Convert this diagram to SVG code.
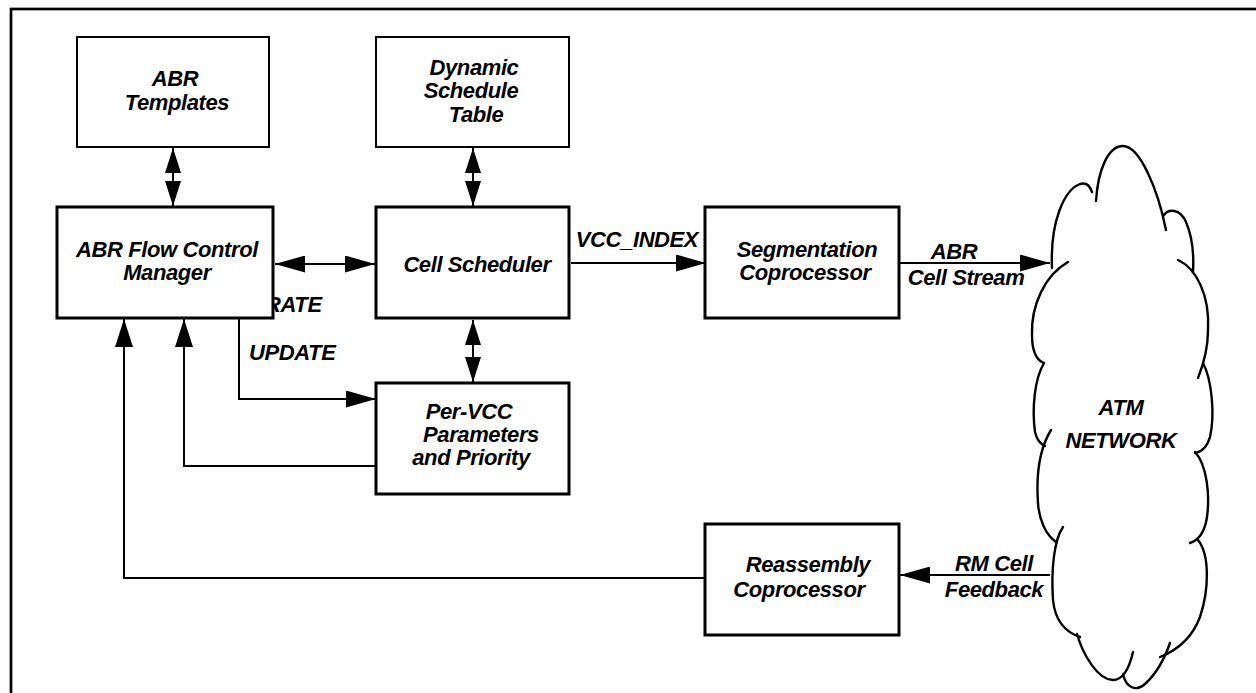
<svg xmlns="http://www.w3.org/2000/svg" width="1256" height="693" viewBox="0 0 1256 693">
  <style>
    .box { fill: #fff; stroke: #000; }
    .thin { stroke-width: 2; }
    .thick { stroke-width: 3; }
    .wire { fill: none; stroke: #000; stroke-width: 2; }
    .cloud path { fill: none; stroke: #000; stroke-width: 2.4; stroke-linecap: round; }
    text { font-family: "Liberation Sans", Arial, sans-serif; font-weight: bold; font-style: italic; font-size: 22px; letter-spacing: -0.4px; fill: #000; text-anchor: middle; }
    .start { text-anchor: start; }
  </style>
  <defs>
    <!-- long arrowhead for horizontal runs -->
    <marker id="ah" viewBox="0 0 30 17" markerWidth="30" markerHeight="17" refX="30" refY="8.5" orient="auto-start-reverse" markerUnits="userSpaceOnUse">
      <path d="M0,0 L30,8.5 L0,17 z" fill="#000"/>
    </marker>
    <!-- shorter arrowhead for the stubby vertical links -->
    <marker id="av" viewBox="0 0 25 16" markerWidth="25" markerHeight="16" refX="25" refY="8" orient="auto-start-reverse" markerUnits="userSpaceOnUse">
      <path d="M0,0 L25,8 L0,16 z" fill="#000"/>
    </marker>
    <!-- feedback arrowheads entering the manager from below -->
    <marker id="au" viewBox="0 0 28 18" markerWidth="28" markerHeight="18" refX="28" refY="9" orient="auto" markerUnits="userSpaceOnUse">
      <path d="M0,0 L28,9 L0,18 z" fill="#000"/>
    </marker>
  </defs>

  <rect width="1256" height="693" fill="#fff"/>
  <!-- outer frame -->
  <rect x="11" y="9" width="1270" height="720" fill="none" stroke="#000" stroke-width="2.7"/>

  <g id="connectors">
    <line class="wire" x1="173" y1="148" x2="173" y2="206" marker-start="url(#av)" marker-end="url(#av)"/>
    <line class="wire" x1="473" y1="148" x2="473" y2="206" marker-start="url(#av)" marker-end="url(#av)"/>
    <line class="wire" x1="275" y1="264" x2="375" y2="264" marker-start="url(#ah)" marker-end="url(#ah)"/>
    <line class="wire" x1="571" y1="263" x2="706" y2="263" marker-end="url(#ah)"/>
    <line class="wire" x1="900" y1="263" x2="1050" y2="263" marker-end="url(#ah)"/>
    <line class="wire" x1="473" y1="320" x2="473" y2="382" marker-start="url(#av)" marker-end="url(#av)"/>
    <polyline class="wire" points="239,316 239,399 376,399" marker-end="url(#ah)"/>
    <polyline class="wire" points="376,466 184,466 184,319" marker-end="url(#au)"/>
    <polyline class="wire" points="705,578 124,578 124,319" marker-end="url(#au)"/>
    <line class="wire" x1="1050" y1="575" x2="900" y2="575" marker-end="url(#ah)"/>
    <text class="start" x="265" y="312">RATE</text>
    <text class="start" x="249" y="360">UPDATE</text>
    <text x="637" y="247">VCC_INDEX</text>
    <text x="954" y="259">ABR</text>
    <text x="966" y="285">Cell Stream</text>
    <text x="994" y="571">RM Cell</text>
    <text x="994" y="597">Feedback</text>
  </g>

  <g id="abr-templates">
    <rect class="box thin" x="77" y="37" width="192" height="110"/>
    <text x="175" y="86">ABR</text>
    <text x="177" y="110">Templates</text>
  </g>

  <g id="dynamic-schedule-table">
    <rect class="box thin" x="376" y="37" width="193" height="110"/>
    <text x="474" y="75">Dynamic</text>
    <text x="471" y="98">Schedule</text>
    <text x="476" y="122">Table</text>
  </g>

  <g id="abr-flow-control-manager">
    <rect class="box thick" x="57" y="207" width="216" height="111"/>
    <text x="167" y="257">ABR Flow Control</text>
    <text x="167" y="280">Manager</text>
  </g>

  <g id="cell-scheduler">
    <rect class="box thick" x="376" y="207" width="193" height="111"/>
    <text x="477" y="272">Cell Scheduler</text>
  </g>

  <g id="segmentation-coprocessor">
    <rect class="box thick" x="705" y="207" width="194" height="111"/>
    <text x="807" y="257">Segmentation</text>
    <text x="805" y="280">Coprocessor</text>
  </g>

  <g id="per-vcc-parameters">
    <rect class="box thick" x="376" y="383" width="193" height="111"/>
    <text x="469" y="419">Per-VCC</text>
    <text x="481" y="442">Parameters</text>
    <text x="471" y="465">and Priority</text>
  </g>

  <g id="reassembly-coprocessor">
    <rect class="box thick" x="705" y="524" width="194" height="111"/>
    <text x="808" y="572">Reassembly</text>
    <text x="799" y="597">Coprocessor</text>
  </g>

  <g id="atm-network">
    <g class="cloud">
      <path d="M1052,268 C1050,222 1064,190 1080,184 C1086,182 1090,186 1092,192"/>
      <path d="M1096,201 C1098,170 1108,146 1123,146 C1140,146 1158,190 1166,230"/>
      <path d="M1164,215 C1168,209 1180,208 1186,222 C1192,236 1194,255 1193,272"/>
      <path d="M1178,260 C1196,268 1210,295 1208,330 C1208,345 1206,358 1198,378"/>
      <path d="M1068,262 C1045,275 1031,305 1032,335 C1032,350 1036,360 1044,363"/>
      <path d="M1044,363 C1034,380 1032,410 1035,432 C1037,440 1040,444 1045,446"/>
      <path d="M1051,430 C1040,448 1036,475 1038,503 C1039,520 1046,535 1056,542"/>
      <path d="M1063,527 C1054,540 1051,570 1053,600 C1055,620 1065,632 1080,637"/>
      <path d="M1077,634 C1083,655 1098,680 1113,680 C1124,680 1130,665 1133,652"/>
      <path d="M1123,674 C1126,688 1136,692 1145,684 C1155,675 1164,660 1170,643"/>
      <path d="M1203,363 C1212,380 1215,415 1210,437 C1207,447 1202,452 1195,453"/>
      <path d="M1195,452 C1207,465 1210,495 1207,517 C1205,530 1200,540 1190,543"/>
      <path d="M1198,540 C1210,555 1209,590 1200,617 C1192,638 1178,650 1160,657"/>
    </g>
    <text x="1121" y="415">ATM</text>
    <text x="1121" y="448">NETWORK</text>
  </g>
</svg>
